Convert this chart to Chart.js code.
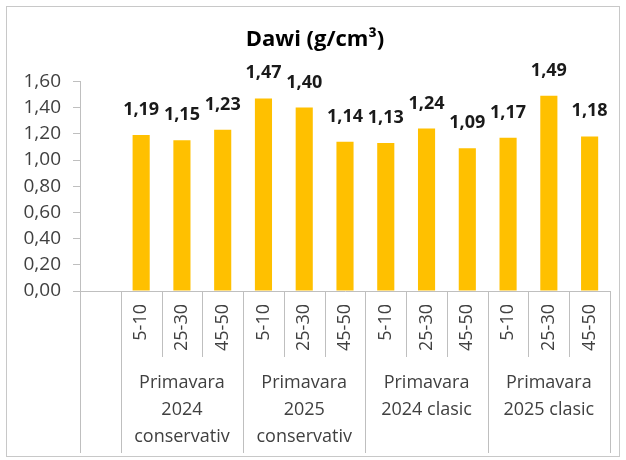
<!DOCTYPE html>
<html>
<head>
<meta charset="utf-8">
<script src="https://cdn.jsdelivr.net/npm/chart.js@4/dist/chart.umd.min.js"></script>
<style>
  html, body { margin: 0; padding: 0; background: #ffffff; }
  #wrap { width: 626px; height: 460px; }
</style>
</head>
<body>
<div id="wrap"><canvas id="c" width="626" height="460"></canvas></div>
<script>
// ---- data ----
const depths = ['', '5-10', '25-30', '45-50', '5-10', '25-30', '45-50', '5-10', '25-30', '45-50', '5-10', '25-30', '45-50'];
const groupLabels = [
  ['Primavara', '2024', 'conservativ'],
  ['Primavara', '2025', 'conservativ'],
  ['Primavara', '2024 clasic'],
  ['Primavara', '2025 clasic']
];
const densityValues = [null, 1.19, 1.15, 1.23, 1.47, 1.40, 1.14, 1.13, 1.24, 1.09, 1.17, 1.49, 1.18];
const yTicks = [0, 0.2, 0.4, 0.6, 0.8, 1.0, 1.2, 1.4, 1.6];
const chartTitle = 'Dawi (g/cm³)';

// group label shown at the middle category of each group of 3 (after the leading empty one)
const groupTickLabels = depths.map((d, i) => {
  if (i > 0 && (i - 1) % 3 === 1) return groupLabels[Math.floor((i - 1) / 3)];
  return '';
});
const groupBoundary = (i) => i === 0 || i % 3 === 0; // boundary after category i

const fmt = (v) => v.toFixed(2).replace('.', ',');
const FONT = '"Open Sans", "Liberation Sans", sans-serif';
const LINE = '#bfbfbf';
const TEXT = '#404040';

const decorPlugin = {
  id: 'decor',
  beforeDraw(chart) {
    const ctx = chart.ctx;
    ctx.save();
    ctx.strokeStyle = '#c8c8c8';
    ctx.lineWidth = 1;
    ctx.strokeRect(6.5, 6.5, 613, 450);
    ctx.restore();
  },
  afterDraw(chart) {
    const ctx = chart.ctx;
    const x = chart.scales.x;
    const x2 = chart.scales.x2;
    const area = chart.chartArea;
    const shortBottom = x.bottom;
    const fullBottom = x2.bottom;
    ctx.save();
    ctx.strokeStyle = LINE;
    ctx.lineWidth = 1;
    ctx.beginPath();
    const lx = Math.round(area.left) + 0.5;
    ctx.moveTo(lx, area.bottom);
    ctx.lineTo(lx, fullBottom);
    for (let i = 0; i < depths.length; i++) {
      const xr = i < depths.length - 1
        ? (x.getPixelForValue(i) + x.getPixelForValue(i + 1)) / 2
        : area.right;
      const px = Math.round(xr) + 0.5;
      ctx.moveTo(px, area.bottom);
      ctx.lineTo(px, groupBoundary(i) || i === depths.length - 1 ? fullBottom : shortBottom);
    }
    ctx.stroke();

    // data labels
    const meta = chart.getDatasetMeta(0);
    ctx.fillStyle = '#1a1a1a';
    ctx.font = 'bold 18px ' + FONT;
    ctx.textAlign = 'center';
    ctx.textBaseline = 'alphabetic';
    meta.data.forEach((bar, i) => {
      const v = densityValues[i];
      if (v === null || v === undefined) return;
      ctx.fillText(fmt(v), bar.x, bar.y - 20);
    });
    ctx.restore();
  }
};

new Chart(document.getElementById('c'), {
  type: 'bar',
  data: {
    labels: depths,
    datasets: [{
      data: densityValues,
      backgroundColor: '#FFC000',
      borderWidth: 0,
      categoryPercentage: 1.0,
      barPercentage: 0.42
    }]
  },
  options: {
    responsive: false,
    animation: false,
    layout: { padding: { left: 20, right: 16, top: 0, bottom: 7 } },
    plugins: {
      legend: { display: false },
      tooltip: { enabled: false },
      title: {
        display: true,
        text: chartTitle,
        color: '#000000',
        font: { family: FONT, size: 22, weight: 'bold', lineHeight: 1.2 },
        padding: { top: 27, bottom: 28 }
      }
    },
    scales: {
      y: {
        min: 0,
        max: 1.6,
        afterBuildTicks: (s) => { s.ticks = yTicks.map(v => ({ value: v })); },
        afterFit: (s) => { s.width = 60; },
        ticks: {
          color: TEXT,
          font: { family: FONT, size: 19 },
          padding: 12,
          callback: (v) => fmt(v)
        },
        grid: { display: true, drawOnChartArea: false, drawTicks: true, tickLength: 7, color: LINE },
        border: { display: true, color: LINE }
      },
      x: {
        position: 'bottom',
        weight: 0,
        afterFit: (s) => { s.height = 66; },
        ticks: {
          color: TEXT,
          font: { family: FONT, size: 18 },
          minRotation: 90,
          maxRotation: 90,
          autoSkip: false,
          padding: 13
        },
        grid: { display: false, drawTicks: false },
        border: { display: true, color: LINE }
      },
      x2: {
        type: 'category',
        position: 'bottom',
        weight: 1,
        labels: groupTickLabels,
        afterFit: (s) => { s.height = 96; },
        ticks: {
          color: TEXT,
          font: { family: FONT, size: 18, lineHeight: 1.5 },
          minRotation: 0,
          maxRotation: 0,
          autoSkip: false,
          padding: 12
        },
        grid: { display: false, drawTicks: false },
        border: { display: false }
      }
    }
  },
  plugins: [decorPlugin]
});
</script>
</body>
</html>
